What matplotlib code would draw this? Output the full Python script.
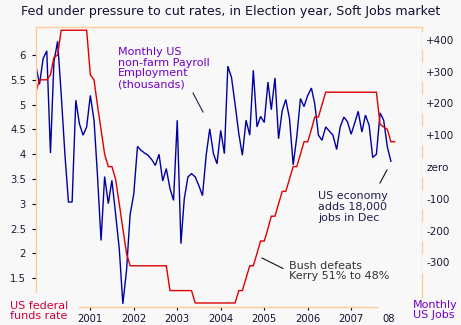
import matplotlib
matplotlib.use('Agg')
import matplotlib.pyplot as plt
import matplotlib.dates as mdates
from matplotlib.lines import Line2D
import pandas as pd
from datetime import datetime

# ---------------- data ----------------
# US federal funds rate (%), monthly from Oct 1999 to Jan 2008
fed_rate = [5.25, 5.5, 5.5, 5.5, 5.6, 5.95, 6.0, 6.5,
            6.5, 6.5, 6.5, 6.5, 6.5, 6.5, 6.5,
            5.6, 5.5, 5.0, 4.5, 4.0, 3.75, 3.75, 3.5, 3.0, 2.5, 2.0, 1.75,
            1.75, 1.75, 1.75, 1.75, 1.75, 1.75, 1.75, 1.75, 1.75, 1.75,
            1.25, 1.25, 1.25, 1.25, 1.25, 1.25, 1.25,
            1.0, 1.0, 1.0, 1.0, 1.0, 1.0, 1.0, 1.0, 1.0, 1.0, 1.0, 1.0,
            1.25, 1.25, 1.5, 1.75, 1.75, 2.0, 2.25, 2.25, 2.5, 2.75, 2.75, 3.0,
            3.25, 3.25, 3.5, 3.75, 3.75, 4.0, 4.25, 4.25, 4.5, 4.75, 4.75, 5.0, 5.25,
            5.25, 5.25, 5.25, 5.25, 5.25, 5.25, 5.25, 5.25, 5.25, 5.25, 5.25, 5.25, 5.25, 5.25,
            4.6, 4.55, 4.5, 4.25, 4.25]

# Monthly change in US non-farm payrolls (thousands), Oct 1999 to Dec 2007
payrolls = [320, 260, 340, 365, 44, 330, 395, 230, 42, -110, -110, 210, 136, 100, 126,
            225, 147, -21, -231, -30, -115, -42, -147, -257, -430, -325, -150,
            -84, 65, 53, 44, 37, 23, 5, 40, -44, -5, -68, -105,
            147, -241, -100, -31, -21, -31, -58, -90, 37, 120, 42, 10,
            115, 42, 317, 281, 197, 105, 37, 147, 100, 304, 126, 159,
            140, 267, 180, 280, 89, 178, 212, 152, 7, 94, 215, 190,
            225, 248, 199, 100, 84, 126, 113, 100, 55, 126, 157, 142,
            103, 140, 175, 110, 163, 131, 30, 40, 170, 147, 63, 18]

rate_ticks = [6, 5.5, 5, 4.5, 4, 3.5, 3, 2.5, 2, 1.5]
rate_labels = ['6', '5.5', '5', '4.5', '4', '3.5', '3', '2.5', '2', '1.5']
jobs_ticks = [400, 300, 200, 100, 0, -100, -200, -300]
jobs_labels = ['+400', '+300', '+200', '+100', 'zero', '-100', '-200', '-300']
year_ticks = [2001, 2002, 2003, 2004, 2005, 2006, 2007]
year_labels = ['2001', '2002', '2003', '2004', '2005', '2006', '2007']

title = 'Fed under pressure to cut rates, in Election year, Soft Jobs market'

# ---------------- style ----------------
BG = '#f8f8f8'
ORANGE = '#ffcc99'
BLUE = '#00009e'
RED = '#dd0000'
PURPLE = '#7000c8'
CRIMSON = '#d0003a'

W, H = 461, 325
fig = plt.figure(figsize=(W / 100, H / 100), dpi=100, facecolor=BG)

def fx(x):
    return x / W

def fy(y):
    return 1 - y / H

ax = fig.add_axes([fx(35.7), fy(307), (422 - 35.7) / W, 280 / H])
ax2 = ax.twinx()
ax.set_zorder(2)
ax2.set_zorder(1)
ax.patch.set_visible(False)

rate_dates = pd.date_range('1999-10-01', periods=len(fed_rate), freq='MS')
job_dates = pd.date_range('1999-10-01', periods=len(payrolls), freq='MS')

ax2.plot(job_dates, payrolls, color=BLUE, lw=1.0, solid_joinstyle='miter')
ax.plot(rate_dates, fed_rate, color=RED, lw=1.0, solid_joinstyle='miter')

ax.set_xlim(datetime(1999, 9, 30), datetime(2008, 8, 18))
ax.set_ylim(0.919, 6.565)
ax2.set_ylim(-440, 440)

# x axis
ax.set_xticks([mdates.date2num(datetime(y, 1, 1)) for y in year_ticks])
ax.set_xticklabels(year_labels)
ax.tick_params(axis='x', direction='out', length=2, width=0.8, color='#000000',
               labelsize=7.2, pad=2.8, labelcolor='#111133')
ax.text(mdates.date2num(datetime(2007, 11, 15)), -(318.5 - 307) / 280, '08',
        transform=ax.get_xaxis_transform(), ha='center', va='center',
        fontsize=7.2, color='#111133')

# left axis
ax.set_yticks(rate_ticks)
ax.set_yticklabels(rate_labels)
ax.tick_params(axis='y', direction='out', length=3, width=0.8, color='#000000',
               labelsize=7.2, pad=4, labelcolor='#1a1a33')

# right axis
ax2.set_yticks(jobs_ticks)
ax2.set_yticklabels(jobs_labels)
ax2.tick_params(axis='y', length=0, labelsize=7.5, pad=3, labelcolor='#1a1a33')
ax2.set_axisbelow(False)
for lab in ax2.get_yticklabels():
    lab.set_bbox(dict(facecolor=BG, edgecolor='none', pad=3))

# spines
for s in ax.spines.values():
    s.set_color(ORANGE)
    s.set_linewidth(1.0)
for s in ax2.spines.values():
    s.set_visible(False)
ax.spines['right'].set_visible(False)
ax.spines['left'].set_bounds(1.222, 6.565)
ax.spines['bottom'].set_bounds(mdates.date2num(datetime(2000, 9, 27)),
                               mdates.date2num(datetime(2007, 8, 4)))
ax2.spines['right'].set_visible(True)
ax2.spines['right'].set_color(ORANGE)
ax2.spines['right'].set_linewidth(1.0)
ax2.spines['right'].set_bounds(-409, 440)

# ---------------- text ----------------
fig.text(fx(231), fy(12), title, ha='center', va='center', fontsize=9.1, color='#111133')

fig.text(fx(118), fy(68), 'Monthly US\nnon-farm Payroll\nEmployment\n(thousands)',
         ha='left', va='center', fontsize=8, color=PURPLE, linespacing=1.1)
fig.add_artist(Line2D([fx(193), fx(203)], [fy(93), fy(112)], color='#222244', lw=0.8))

fig.text(fx(318), fy(207), 'US economy\nadds 18,000\njobs in Dec',
         ha='left', va='center', fontsize=8, color='#1e1e50', linespacing=1.1)
fig.add_artist(Line2D([fx(380), fx(387)], [fy(183), fy(170)], color='#111111', lw=0.8))

fig.text(fx(289), fy(271), 'Bush defeats\nKerry 51% to 48%',
         ha='left', va='center', fontsize=8, color='#333333', linespacing=1.1)
fig.add_artist(Line2D([fx(262), fx(283)], [fy(258), fy(268.5)], color='#111111', lw=0.8))

fig.text(fx(10), fy(311), 'US federal\nfunds rate', ha='left', va='center',
         fontsize=8, color=CRIMSON, linespacing=1.1)
fig.text(fx(413), fy(310), 'Monthly\nUS Jobs', ha='left', va='center',
         fontsize=8, color=PURPLE, linespacing=1.1)

fig.savefig('out.png', dpi=100, facecolor=BG)
